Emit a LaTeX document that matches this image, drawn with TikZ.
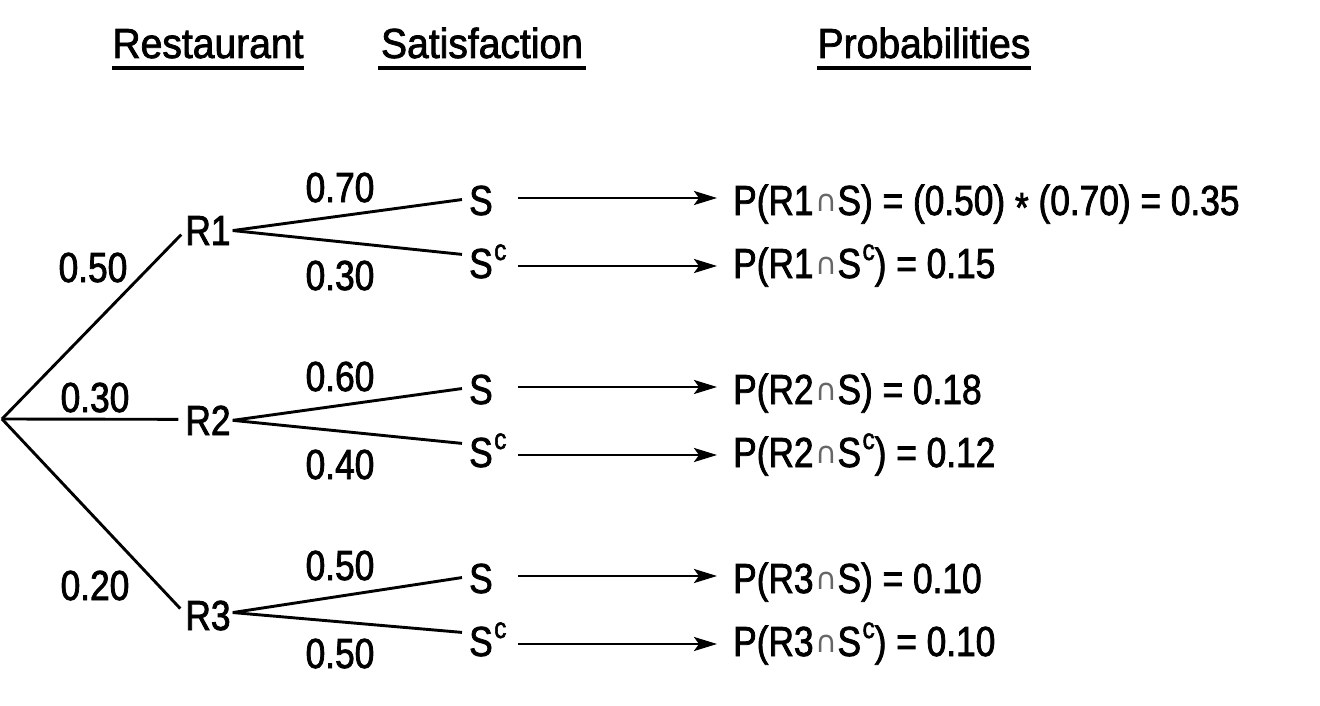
\documentclass[tikz,border=0pt]{standalone}
\usepackage{fontspec}
\setmainfont{Liberation Sans}[FakeStretch=0.84,FakeBold=1.8]
\newfontfamily\headfont{Liberation Sans}[FakeStretch=0.93,FakeBold=1.8]
\newfontfamily\symfont{DejaVu Sans}
\usetikzlibrary{arrows.meta}
\newcommand{\Scomp}{S\kern1.5pt\raisebox{18pt}{\fontsize{29}{29}\selectfont c}}
\newcommand{\capsym}{\kern2pt\raisebox{4pt}{\symfont\fontsize{30}{30}\selectfont\color{black!60}∩}\kern0pt}
\newcommand{\astr}{\raisebox{-7pt}{*}}
\begin{document}
\begin{tikzpicture}[x=1pt,y=-1pt,
  txt/.style={inner sep=0pt, font=\fontsize{42}{48}\selectfont},
  head/.style={inner sep=0pt, font=\headfont\fontsize{42}{48}\selectfont, anchor=base},
  tree/.style={line width=2.9pt},
  arr/.style={line width=2.6pt, -{Stealth[length=23pt,width=14pt,inset=5pt]}},
  uline/.style={line width=4pt}]
\useasboundingbox (0,0) rectangle (1320,706);

% headers
\node[head, minimum width=190pt] (hR) at (208,58) {Restaurant};
\node[head, minimum width=208pt] (hS) at (482,58) {Satisfaction};
\node[head, minimum width=208pt] (hP) at (924,58) {Probabilities};
\foreach \h in {hR,hS,hP}
  \draw[uline] ([yshift=-10pt]\h.base west) -- ([yshift=-10pt]\h.base east);

% root
\coordinate (root) at (2,419);

% restaurant nodes
\node[txt, anchor=base] (R1) at (208,245) {R1};
\node[txt, anchor=base] (R2) at (208,435) {R2};
\node[txt, anchor=base] (R3) at (208,630) {R3};

\draw[tree] (root) -- ([xshift=-4pt,yshift=-4pt]R1.west);
\draw[tree] (root) -- ([xshift=-7pt,yshift=1pt]R2.west);
\draw[tree] (root) -- ([xshift=-5pt,yshift=7pt]R3.west);

% root labels
\node[txt, anchor=base] (l1) at (93,282) {0.50};
\node[txt, anchor=base] (l2) at (95,412) {0.30};
\node[txt, anchor=base] (l3) at (95,600) {0.20};

% satisfaction nodes
\node[txt, anchor=base west] (S1) at (469,215) {S};
\node[txt, anchor=base west] (C1) at (469,278) {\Scomp};
\node[txt, anchor=base west] (S2) at (469,404) {S};
\node[txt, anchor=base west] (C2) at (469,467) {\Scomp};
\node[txt, anchor=base west] (S3) at (469,593) {S};
\node[txt, anchor=base west] (C3) at (469,656) {\Scomp};

\draw[tree] ([xshift=2pt]R1.east) -- ([xshift=-7pt,yshift=1pt]S1.west);
\draw[tree] ([xshift=2pt]R1.east) -- ([xshift=-7pt,yshift=7pt]C1.west);
\draw[tree] ([xshift=2pt]R2.east) -- ([xshift=-7pt,yshift=1pt]S2.west);
\draw[tree] ([xshift=2pt]R2.east) -- ([xshift=-7pt,yshift=7pt]C2.west);
\draw[tree] ([xshift=2pt,yshift=3pt]R3.east) -- ([xshift=-7pt,yshift=1pt]S3.west);
\draw[tree] ([xshift=2pt,yshift=3pt]R3.east) -- ([xshift=-7pt,yshift=7pt]C3.west);

% branch labels
\node[txt, anchor=base] (b1) at (340,202) {0.70};
\node[txt, anchor=base] (b2) at (340,290) {0.30};
\node[txt, anchor=base] (b3) at (340,391) {0.60};
\node[txt, anchor=base] (b4) at (340,479) {0.40};
\node[txt, anchor=base] (b5) at (340,580) {0.50};
\node[txt, anchor=base] (b6) at (340,668) {0.50};

% probabilities
\node[txt, anchor=base west] (P1) at (733,215) {P(R1\capsym S) = (0.50) \astr{} (0.70) = 0.35};
\node[txt, anchor=base west] (P2) at (733,278) {P(R1\capsym\Scomp) = 0.15};
\node[txt, anchor=base west] (P3) at (733,404) {P(R2\capsym S) = 0.18};
\node[txt, anchor=base west] (P4) at (733,467) {P(R2\capsym\Scomp) = 0.12};
\node[txt, anchor=base west] (P5) at (733,593) {P(R3\capsym S) = 0.10};
\node[txt, anchor=base west] (P6) at (733,656) {P(R3\capsym\Scomp) = 0.10};

% arrows
\draw[arr] ([xshift=49pt,yshift=17pt]S1.base west) -- ([xshift=-16pt,yshift=17pt]P1.base west);
\draw[arr] ([xshift=49pt,yshift=12pt]C1.base west) -- ([xshift=-16pt,yshift=12pt]P2.base west);
\draw[arr] ([xshift=49pt,yshift=17pt]S2.base west) -- ([xshift=-16pt,yshift=17pt]P3.base west);
\draw[arr] ([xshift=49pt,yshift=12pt]C2.base west) -- ([xshift=-16pt,yshift=12pt]P4.base west);
\draw[arr] ([xshift=49pt,yshift=17pt]S3.base west) -- ([xshift=-16pt,yshift=17pt]P5.base west);
\draw[arr] ([xshift=49pt,yshift=12pt]C3.base west) -- ([xshift=-16pt,yshift=12pt]P6.base west);
\end{tikzpicture}
\end{document}
